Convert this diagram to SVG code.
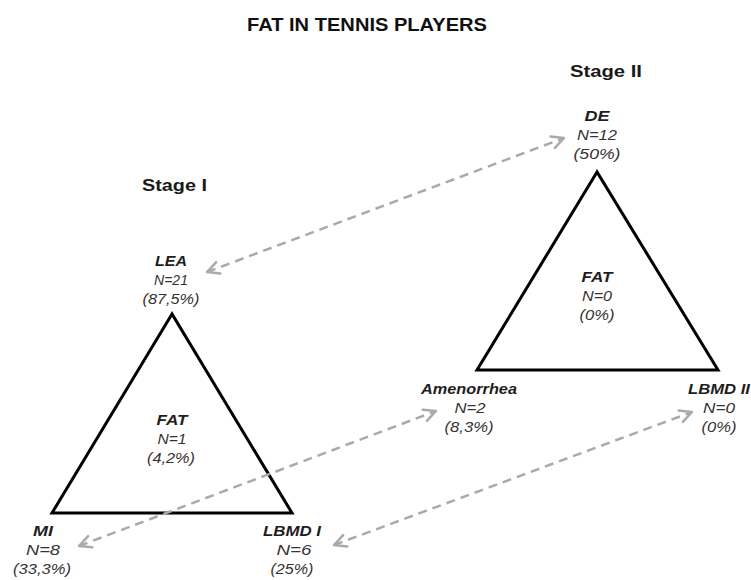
<svg xmlns="http://www.w3.org/2000/svg" width="751" height="580" viewBox="0 0 751 580">
<style>
.title{font-family:"Liberation Sans",Arial,sans-serif;font-weight:bold;font-size:18px;fill:#111}
.stage{font-family:"Liberation Sans",Arial,sans-serif;font-weight:bold;font-size:17px;fill:#1a1a1a}
.nm{font-family:"Liberation Sans",Arial,sans-serif;font-weight:bold;font-style:italic;font-size:14px;fill:#1e1e1e}
.v{font-family:"Liberation Sans",Arial,sans-serif;font-style:italic;font-size:14px;fill:#333}
.tri{fill:#fff;stroke:#000;stroke-width:3;stroke-linejoin:miter}
.conn{fill:none;stroke:#aaa;stroke-width:2.5;stroke-dasharray:9 6;marker-start:url(#chev);marker-end:url(#chev)}
</style>
<defs>
<marker id="chev" markerUnits="userSpaceOnUse" markerWidth="30" markerHeight="30" viewBox="-15 -15 30 30" refX="0" refY="0" orient="auto-start-reverse" overflow="visible">
<path d="M-12,-6 L0,0 L-12,6" fill="none" stroke="#aaa" stroke-width="2.5" stroke-dasharray="none" stroke-linecap="round" stroke-linejoin="round"/>
</marker>
</defs>
<rect width="751" height="580" fill="#fff"/>
<text class="title" x="367" y="31" text-anchor="middle" textLength="240" lengthAdjust="spacingAndGlyphs">FAT IN TENNIS PLAYERS</text>
<text class="stage" x="174.5" y="191" text-anchor="middle" textLength="65" lengthAdjust="spacingAndGlyphs">Stage I</text>
<text class="stage" x="606" y="77" text-anchor="middle" textLength="72" lengthAdjust="spacingAndGlyphs">Stage II</text>

<g id="triangle1">
<polygon class="tri" points="172,314 52,513 292,513"/>
</g>
<g id="triangle2">
<polygon class="tri" points="597,172 477,370 718,370"/>
</g>

<g id="connectors">
<line class="conn" x1="207" y1="272" x2="564" y2="138"/>
<line class="conn" x1="79" y1="546" x2="436" y2="411"/>
<line class="conn" x1="334" y1="545" x2="692" y2="412"/>
</g>

<g id="node-LEA">
<text class="nm" x="171" y="266" text-anchor="middle" textLength="32" lengthAdjust="spacingAndGlyphs">LEA</text>
<text class="v" x="171" y="285" text-anchor="middle" textLength="34" lengthAdjust="spacingAndGlyphs">N=21</text>
<text class="v" x="171" y="304" text-anchor="middle" textLength="57" lengthAdjust="spacingAndGlyphs">(87,5%)</text>
</g>
<g id="node-FAT1">
<text class="nm" x="172" y="425" text-anchor="middle" textLength="31" lengthAdjust="spacingAndGlyphs">FAT</text>
<text class="v" x="172" y="444" text-anchor="middle" textLength="29" lengthAdjust="spacingAndGlyphs">N=1</text>
<text class="v" x="171" y="463" text-anchor="middle" textLength="48" lengthAdjust="spacingAndGlyphs">(4,2%)</text>
</g>
<g id="node-MI">
<text class="nm" x="43" y="536" text-anchor="middle" textLength="20" lengthAdjust="spacingAndGlyphs">MI</text>
<text class="v" x="43" y="555" text-anchor="middle" textLength="34" lengthAdjust="spacingAndGlyphs">N=8</text>
<text class="v" x="42" y="574" text-anchor="middle" textLength="58" lengthAdjust="spacingAndGlyphs">(33,3%)</text>
</g>
<g id="node-LBMDI">
<text class="nm" x="292" y="536" text-anchor="middle" textLength="58" lengthAdjust="spacingAndGlyphs">LBMD I</text>
<text class="v" x="294" y="555" text-anchor="middle" textLength="35" lengthAdjust="spacingAndGlyphs">N=6</text>
<text class="v" x="292" y="574" text-anchor="middle" textLength="43" lengthAdjust="spacingAndGlyphs">(25%)</text>
</g>
<g id="node-DE">
<text class="nm" x="597" y="121" text-anchor="middle" textLength="25" lengthAdjust="spacingAndGlyphs">DE</text>
<text class="v" x="597" y="140" text-anchor="middle" textLength="40" lengthAdjust="spacingAndGlyphs">N=12</text>
<text class="v" x="597" y="159" text-anchor="middle" textLength="47" lengthAdjust="spacingAndGlyphs">(50%)</text>
</g>
<g id="node-FAT2">
<text class="nm" x="597" y="282" text-anchor="middle" textLength="31" lengthAdjust="spacingAndGlyphs">FAT</text>
<text class="v" x="597" y="301" text-anchor="middle" textLength="30" lengthAdjust="spacingAndGlyphs">N=0</text>
<text class="v" x="597" y="320" text-anchor="middle" textLength="35" lengthAdjust="spacingAndGlyphs">(0%)</text>
</g>
<g id="node-Amenorrhea">
<text class="nm" x="469" y="394" text-anchor="middle" textLength="96" lengthAdjust="spacingAndGlyphs">Amenorrhea</text>
<text class="v" x="470" y="413" text-anchor="middle" textLength="31" lengthAdjust="spacingAndGlyphs">N=2</text>
<text class="v" x="469" y="432" text-anchor="middle" textLength="49" lengthAdjust="spacingAndGlyphs">(8,3%)</text>
</g>
<g id="node-LBMDII">
<text class="nm" x="719" y="394" text-anchor="middle" textLength="62" lengthAdjust="spacingAndGlyphs">LBMD II</text>
<text class="v" x="719" y="413" text-anchor="middle" textLength="32" lengthAdjust="spacingAndGlyphs">N=0</text>
<text class="v" x="719" y="432" text-anchor="middle" textLength="35" lengthAdjust="spacingAndGlyphs">(0%)</text>
</g>
</svg>
